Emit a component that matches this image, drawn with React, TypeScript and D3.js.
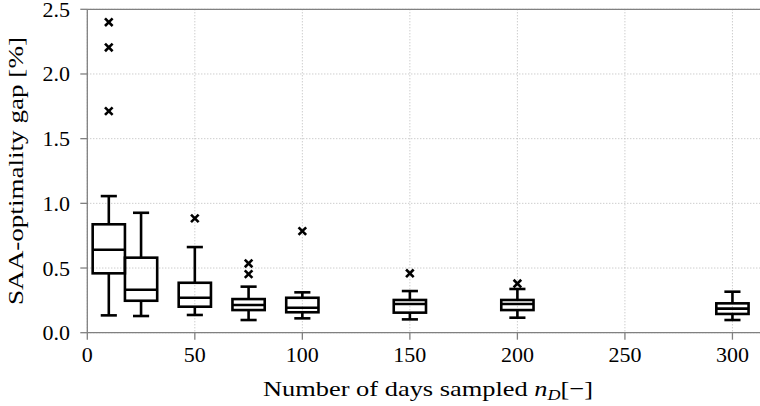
import React from "react";
import * as d3 from "d3";

const positions = [10, 25, 50, 75, 100, 150, 200, 300];
const whiskerLow = [0.134, 0.129, 0.137, 0.098, 0.111, 0.103, 0.116, 0.098];
const q1 = [0.459, 0.247, 0.201, 0.175, 0.158, 0.155, 0.175, 0.145];
const median = [0.641, 0.332, 0.270, 0.214, 0.193, 0.222, 0.222, 0.186];
const q3 = [0.838, 0.580, 0.386, 0.260, 0.270, 0.253, 0.253, 0.227];
const whiskerHigh = [1.056, 0.927, 0.662, 0.356, 0.312, 0.322, 0.338, 0.317];
const outliers = [[2.40, 2.205, 1.713], [], [0.884], [0.535, 0.453], [0.785], [0.459], [0.38], []];

const xTicks = [0, 50, 100, 150, 200, 250, 300];
const yTicks = [0.0, 0.5, 1.0, 1.5, 2.0, 2.5];

const W = 760, H = 406;
const left = 87.3, right = 769, top = 9.3, bottom = 332.7;
const boxWidth = 15;

export default function App() {
  const x = d3.scaleLinear().domain([0, 317]).range([left, right]);
  const y = d3.scaleLinear().domain([0, 2.5]).range([bottom, top]);
  const txt = { fontFamily: '"Liberation Serif", "Times New Roman", serif', fontSize: "22px" } as React.CSSProperties;
  const grid = "#b8b8b8";
  const spine = "#808080";
  const lw = 2.6;
  const bw = x(boxWidth) - x(0);

  return (
    <svg width={W} height={H} style={{ position: "absolute", left: 0, top: 0, background: "#fff" }}>
      {xTicks.map((t) => (
        <line key={"gx" + t} x1={x(t)} x2={x(t)} y1={top} y2={bottom} stroke={grid} strokeWidth={1} strokeDasharray="1,2" />
      ))}
      {yTicks.map((t) => (
        <line key={"gy" + t} x1={left} x2={W} y1={y(t)} y2={y(t)} stroke={grid} strokeWidth={1} strokeDasharray="1,2" />
      ))}
      <line x1={left} x2={left} y1={top} y2={bottom} stroke={spine} strokeWidth={1.3} />
      <line x1={left} x2={W} y1={bottom} y2={bottom} stroke={spine} strokeWidth={1.3} />
      <line x1={left} x2={W} y1={top} y2={top} stroke={spine} strokeWidth={1.3} />
      {xTicks.map((t) => (
        <g key={"tx" + t}>
          <line x1={x(t)} x2={x(t)} y1={bottom} y2={bottom + 7} stroke={spine} strokeWidth={1.3} />
          <text x={x(t)} y={bottom + 29} textAnchor="middle" style={txt} fill="#000">
            {t}
          </text>
        </g>
      ))}
      {yTicks.map((t) => (
        <g key={"ty" + t}>
          <line x1={left - 7} x2={left} y1={y(t)} y2={y(t)} stroke={spine} strokeWidth={1.3} />
          <text x={70} y={y(t) + 7.5} textAnchor="end" style={txt} fill="#000">
            {t.toFixed(1)}
          </text>
        </g>
      ))}
      {positions.map((p, i) => {
        const cx = x(p);
        const x0 = cx - bw / 2;
        return (
          <g key={"b" + p} stroke="#000" strokeWidth={lw} fill="none">
            <rect x={x0} y={y(q3[i])} width={bw} height={y(q1[i]) - y(q3[i])} />
            <line x1={x0} x2={x0 + bw} y1={y(median[i])} y2={y(median[i])} />
            <line x1={cx} x2={cx} y1={y(q3[i])} y2={y(whiskerHigh[i])} />
            <line x1={cx} x2={cx} y1={y(q1[i])} y2={y(whiskerLow[i])} />
            <line x1={cx - bw / 4} x2={cx + bw / 4} y1={y(whiskerHigh[i])} y2={y(whiskerHigh[i])} />
            <line x1={cx - bw / 4} x2={cx + bw / 4} y1={y(whiskerLow[i])} y2={y(whiskerLow[i])} />
            {outliers[i].map((o, j) => (
              <g key={j} strokeWidth={2.6}>
                <line x1={cx - 3.8} x2={cx + 3.8} y1={y(o) - 3.8} y2={y(o) + 3.8} />
                <line x1={cx - 3.8} x2={cx + 3.8} y1={y(o) + 3.8} y2={y(o) - 3.8} />
              </g>
            ))}
          </g>
        );
      })}
      <text x={263} y={396} style={txt} fill="#000" textLength={330} lengthAdjust="spacingAndGlyphs">
        Number of days sampled{" "}
        <tspan fontStyle="italic">n</tspan>
        <tspan fontStyle="italic" style={{ fontSize: "15px" }} dy={4}>D</tspan>
        <tspan dy={-4}>[−]</tspan>
      </text>
      <text
        transform={`translate(23, ${(top + bottom) / 2}) rotate(-90)`}
        textAnchor="middle"
        style={txt}
        fill="#000"
        textLength={268}
        lengthAdjust="spacingAndGlyphs"
      >
        SAA-optimality gap [%]
      </text>
    </svg>
  );
}
